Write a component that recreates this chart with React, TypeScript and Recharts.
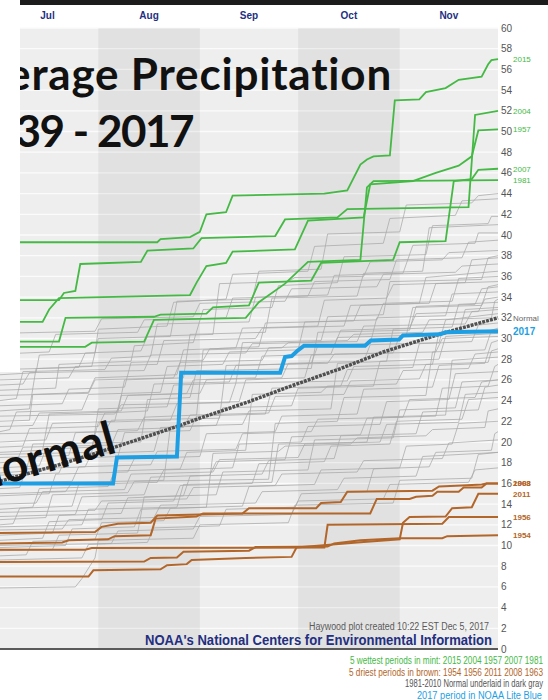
import React from "react";
import {
  LineChart,
  Line,
  XAxis,
  YAxis,
  CartesianGrid,
  ReferenceArea,
  ReferenceLine,
} from "recharts";

type Pt = [number, number];

// x = day counted from Jul 1 (day 0); y = cumulative precipitation (inches)
const months = ["Jul", "Aug", "Sep", "Oct", "Nov"];
const monthMid = [15.5, 46.5, 77, 107.5, 138];
const shadedMonths: [number, number][] = [
  [31, 62],
  [92, 123],
];
const yTicks = [
  0, 2, 4, 6, 8, 10, 12, 14, 16, 18, 20, 22, 24, 26, 28, 30, 32, 34, 36, 38,
  40, 42, 44, 46, 48, 50, 52, 54, 56, 58, 60,
];

const normal: Pt[] = [
  [1, 16.2], [19, 17.8], [37, 19.6], [55, 21.5], [62, 22.3], [77, 23.9],
  [88, 25.2], [105, 27.1], [118, 28.7], [135, 30.4], [153, 32.0],
];

const y2017: Pt[] = [
  [1, 16.0], [35.5, 16.0], [36.7, 18.5], [55, 18.6], [56.3, 26.7], [86.5, 26.7],
  [88, 28.2], [90, 28.3], [91.7, 28.8], [93.8, 29.3], [112.4, 29.3], [114.2, 29.8],
  [122.8, 29.9], [124, 30.3], [135.3, 30.4], [137, 30.6], [153, 30.7],
];

// 5 wettest
const wet2015: Pt[] = [
  [1, 39.3], [49, 39.3], [50, 39.6], [59, 39.8], [62, 40.3], [64, 42.0], [70, 42.2],
  [72, 43.8], [100, 44.0], [107, 44.3], [111, 46.8], [113, 47.3], [115, 47.6],
  [120, 47.7], [121.5, 53.0], [129, 53.1], [131, 53.8], [137, 54.2], [141, 55.0],
  [148, 55.3], [150, 56.5], [151, 56.9], [153, 57.0],
];
const wet2004: Pt[] = [
  [1, 33.7], [19, 33.7], [20.5, 34.4], [24, 34.6], [25.5, 37.2], [44, 37.4],
  [46, 38.5], [60, 38.7], [62.5, 39.7], [85, 39.9], [88, 41.5], [104, 41.7],
  [107, 42.5], [144, 42.7], [146, 51.6], [153, 52.0],
];
const wet1957: Pt[] = [
  [1, 31.6], [14, 31.6], [16, 32.8], [19, 33.9], [59, 34.2], [61, 35.4], [64, 37.0],
  [70, 37.3], [72, 38.4], [91, 38.6], [95, 41.4], [112, 41.7], [114, 44.9],
  [127, 45.2], [134, 46.0], [141, 46.7], [145, 47.6], [147, 50.1], [153, 50.2],
];
const wet2007: Pt[] = [
  [1, 29.7], [19, 29.7], [21, 32.0], [48, 32.1], [50, 32.3], [64, 32.4], [66, 33.0],
  [77, 33.2], [80, 35.4], [96, 35.6], [99, 37.3], [121, 37.6], [123, 39.3],
  [137, 39.4], [139.5, 45.2], [145, 45.4], [147, 46.3], [153, 46.4],
];
const wet1981: Pt[] = [
  [1, 29.2], [27, 29.2], [29, 29.6], [45, 29.7], [48, 31.8], [76, 32.0], [80, 33.5],
  [88, 35.3], [95, 37.4], [111, 37.6], [113, 44.6], [115, 45.2], [153, 45.3],
];

// 5 driest
const dry2008: Pt[] = [
  [1, 11.2], [30, 11.3], [32, 11.8], [37, 12.1], [47, 12.2], [49, 12.9], [75, 13.1],
  [77, 13.6], [97.5, 13.6], [99, 14.1], [105, 14.2], [107, 15.2], [133, 15.3],
  [135, 15.7], [142, 15.8], [148, 15.9], [149.5, 16.0], [153, 16.0],
];
const dry1963: Pt[] = [
  [1, 10.2], [20, 10.3], [22, 10.5], [34, 10.6], [36, 10.9], [47, 11.0], [48.5, 12.6],
  [61, 12.8], [63, 13.1], [114, 13.1], [116, 14.5], [126, 14.5], [128, 14.7],
  [133, 14.8], [134.5, 15.2], [141, 15.2], [142.5, 15.6], [148, 15.6], [149.5, 16.0],
  [153, 16.0],
];
const dry1956: Pt[] = [
  [1, 9.6], [27, 9.6], [29, 9.75], [100, 9.8], [101, 12.0], [136, 12.1],
  [138, 12.75], [153, 12.75],
];
const dry1954: Pt[] = [
  [1, 8.4], [45, 8.45], [47, 8.8], [55, 8.85], [57, 9.4], [77, 9.5], [79, 9.85],
  [101, 9.9], [103, 10.2], [111, 10.5], [123, 10.7], [136, 10.7], [137.5, 10.9],
  [153, 11.0],
];
const dry2011: Pt[] = [
  [1, 7.0], [28, 7.0], [29.5, 7.6], [50, 7.7], [52, 8.1], [58, 8.2], [59.5, 8.6],
  [76, 8.8], [90, 8.9], [91.5, 9.8], [110, 10.3], [123, 10.6], [124, 12.2],
  [126, 12.75], [137, 12.8], [139, 13.6], [145, 13.7], [147, 15.0], [153, 15.0],
];

// other years, underlaid in light gray
const otherYears: Pt[][] = [
  [[1, 26.5], [12, 26.7], [13, 28.4], [30, 28.6], [31, 30.9], [52, 31.2], [54, 33.5], [70, 33.8], [72, 36.2], [95, 36.5], [97, 38.9], [118, 39.2], [120, 41.6], [140, 41.9], [142, 43.3], [153, 43.5]],
  [[1, 25.0], [18, 25.2], [19, 27.5], [41, 27.8], [42, 29.3], [60, 29.6], [63, 32.8], [84, 33.0], [86, 35.1], [104, 35.4], [106, 37.9], [131, 38.1], [133, 40.9], [150, 41.1], [151, 41.8], [153, 41.8]],
  [[1, 24.0], [6, 24.2], [8, 26.8], [33, 27.0], [35, 28.1], [47, 28.3], [49, 31.4], [77, 31.6], [79, 34.0], [101, 34.2], [103, 36.1], [124, 36.3], [127, 39.0], [146, 39.2], [147, 40.2], [153, 40.2]],
  [[1, 27.0], [25, 27.2], [27, 28.6], [44, 28.8], [46, 30.2], [66, 30.4], [68, 35.3], [89, 35.5], [91, 35.9], [112, 36.0], [114, 37.4], [136, 37.6], [138, 38.3], [153, 38.5]],
  [[1, 22.0], [10, 22.1], [11, 24.6], [28, 24.8], [30, 26.2], [55, 26.5], [57, 28.9], [73, 29.1], [75, 31.0], [98, 31.2], [100, 33.7], [119, 33.9], [121, 35.2], [143, 35.4], [145, 37.6], [153, 37.8]],
  [[1, 23.5], [20, 23.7], [22, 25.1], [39, 25.3], [41, 27.7], [63, 27.9], [65, 29.0], [80, 29.2], [82, 31.5], [109, 31.7], [111, 33.2], [129, 33.4], [131, 35.9], [153, 36.5]],
  [[1, 21.0], [4, 21.2], [6, 22.9], [26, 23.1], [28, 24.6], [50, 24.8], [52, 27.3], [69, 27.5], [71, 28.7], [92, 28.9], [94, 31.6], [116, 31.8], [118, 33.4], [139, 33.6], [141, 35.8], [153, 36.0]],
  [[1, 20.0], [15, 20.2], [17, 21.8], [36, 22.0], [38, 24.5], [58, 24.7], [60, 26.0], [79, 26.2], [81, 28.3], [102, 28.5], [104, 30.1], [125, 30.3], [127, 33.0], [148, 33.2], [150, 35.0], [153, 35.2]],
  [[1, 19.5], [8, 19.6], [10, 21.3], [31, 21.5], [33, 22.8], [46, 23.0], [48, 25.6], [71, 25.8], [73, 27.4], [96, 27.6], [98, 29.3], [114, 29.5], [116, 32.0], [137, 32.2], [139, 34.3], [153, 34.5]],
  [[1, 18.5], [22, 18.7], [24, 20.9], [43, 21.1], [45, 22.4], [61, 22.6], [63, 28.9], [87, 29.1], [89, 29.6], [107, 29.8], [109, 30.4], [130, 30.6], [132, 31.8], [151, 32.0], [152, 33.6], [153, 33.8]],
  [[1, 17.5], [13, 17.7], [15, 19.3], [29, 19.5], [31, 21.9], [53, 22.1], [55, 23.7], [74, 23.9], [76, 26.0], [94, 26.2], [96, 28.4], [121, 28.6], [123, 30.3], [141, 30.5], [143, 32.8], [153, 33.0]],
  [[1, 16.8], [19, 17.0], [21, 18.4], [37, 18.6], [39, 20.9], [59, 21.1], [61, 22.5], [82, 22.7], [84, 25.2], [105, 25.4], [107, 27.0], [127, 27.2], [129, 29.5], [145, 29.7], [147, 31.3], [153, 31.5]],
  [[1, 15.5], [7, 15.6], [9, 17.4], [27, 17.6], [29, 18.9], [48, 19.1], [50, 21.4], [67, 21.6], [69, 23.3], [90, 23.5], [92, 25.2], [115, 25.4], [117, 27.8], [135, 28.0], [137, 30.2], [153, 30.5]],
  [[1, 14.8], [16, 15.0], [18, 16.9], [40, 17.1], [42, 18.4], [62, 18.6], [64, 20.8], [85, 21.0], [87, 22.5], [110, 22.7], [112, 25.1], [133, 25.3], [135, 27.4], [149, 27.6], [151, 29.6], [153, 29.8]],
  [[1, 13.5], [11, 13.7], [13, 15.5], [34, 15.7], [36, 17.2], [56, 17.4], [58, 19.0], [76, 19.2], [78, 24.6], [99, 24.8], [101, 25.4], [122, 25.6], [124, 26.9], [144, 27.1], [146, 28.5], [153, 28.7]],
  [[1, 12.8], [24, 13.0], [26, 14.7], [45, 14.9], [47, 16.6], [65, 16.8], [67, 18.1], [88, 18.3], [90, 20.5], [111, 20.7], [113, 22.3], [134, 22.5], [136, 25.2], [150, 25.4], [152, 27.3], [153, 27.5]],
  [[1, 12.0], [5, 12.1], [7, 13.6], [23, 13.8], [25, 15.9], [49, 16.1], [51, 17.3], [72, 17.5], [74, 19.8], [93, 20.0], [95, 21.5], [117, 21.7], [119, 23.9], [138, 24.1], [140, 26.6], [153, 26.8]],
  [[1, 11.0], [17, 11.2], [19, 12.9], [38, 13.1], [40, 14.6], [57, 14.8], [59, 16.7], [81, 16.9], [83, 18.2], [103, 18.4], [105, 20.6], [128, 20.8], [130, 22.9], [147, 23.1], [149, 25.3], [153, 25.5]],
  [[1, 10.5], [14, 10.7], [16, 12.3], [32, 12.5], [34, 14.1], [54, 14.3], [56, 15.8], [78, 16.0], [80, 17.9], [100, 18.1], [102, 19.6], [120, 19.8], [122, 22.0], [142, 22.2], [144, 24.1], [153, 24.3]],
  [[1, 9.8], [21, 10.0], [23, 11.6], [42, 11.8], [44, 13.5], [64, 13.7], [66, 18.9], [86, 19.1], [88, 19.6], [108, 19.8], [110, 20.4], [131, 20.6], [133, 21.2], [149, 21.4], [150, 23.0], [153, 23.2]],
  [[1, 9.0], [9, 9.1], [11, 10.4], [30, 10.6], [32, 12.2], [51, 12.4], [53, 13.6], [75, 13.8], [77, 15.7], [97, 15.9], [99, 17.3], [123, 17.5], [125, 19.6], [139, 19.8], [141, 21.8], [153, 22.0]],
  [[1, 8.6], [26, 8.8], [28, 10.1], [46, 10.3], [48, 11.7], [68, 11.9], [70, 13.5], [91, 13.7], [93, 15.0], [113, 15.2], [115, 17.4], [132, 17.6], [134, 19.0], [151, 19.2], [152, 20.8], [153, 21.0]],
  [[1, 13.2], [30, 13.4], [32, 14.3], [58, 14.5], [60, 15.6], [85, 15.8], [87, 16.9], [110, 17.1], [112, 18.2], [136, 18.4], [138, 19.9], [153, 20.2]],
  [[1, 11.5], [20, 11.6], [22, 12.5], [48, 12.7], [50, 13.9], [79, 14.1], [81, 15.2], [104, 15.4], [106, 16.5], [128, 16.7], [130, 18.6], [153, 19.0]],
  [[1, 10.0], [35, 10.2], [37, 11.4], [60, 11.6], [62, 12.8], [90, 13.0], [92, 14.3], [118, 14.5], [120, 15.9], [144, 16.1], [146, 17.3], [153, 17.5]],
  [[1, 28.5], [16, 28.7], [18, 30.4], [43, 30.6], [45, 31.8], [70, 32.0], [72, 33.9], [95, 34.1], [97, 35.5], [120, 35.7], [122, 37.6], [142, 37.8], [144, 39.3], [153, 39.5]],
  [[1, 30.5], [30, 30.7], [32, 31.9], [60, 32.1], [62, 33.4], [88, 33.6], [90, 34.8], [116, 35.0], [118, 36.2], [140, 36.4], [142, 37.0], [153, 37.2]],
  [[1, 21.5], [11, 21.6], [13, 22.8], [38, 23.0], [40, 24.5], [62, 24.7], [64, 26.0], [87, 26.2], [89, 27.6], [112, 27.8], [114, 29.4], [135, 29.6], [137, 31.8], [153, 32.4]],
  [[1, 16.0], [23, 16.2], [25, 17.6], [47, 17.8], [49, 19.1], [73, 19.3], [75, 20.8], [96, 21.0], [98, 22.2], [124, 22.4], [126, 24.1], [146, 24.3], [148, 25.8], [153, 26.0]],
  [[1, 18.0], [6, 18.1], [8, 19.5], [35, 19.7], [37, 21.2], [57, 21.4], [59, 22.6], [83, 22.8], [85, 24.4], [106, 24.6], [108, 25.9], [129, 26.1], [131, 27.5], [150, 27.7], [151, 28.8], [153, 29.0]],
  [[1, 24.5], [28, 24.7], [30, 26.0], [54, 26.2], [56, 27.7], [81, 27.9], [83, 29.1], [103, 29.3], [105, 30.8], [126, 31.0], [128, 32.4], [147, 32.6], [149, 33.8], [153, 34.0]],
  [[1, 14.0], [12, 14.1], [14, 15.2], [39, 15.4], [41, 16.9], [66, 17.1], [68, 18.3], [92, 18.5], [94, 19.8], [117, 20.0], [119, 21.7], [141, 21.9], [143, 24.6], [153, 24.8]],
  [[1, 5.9], [24, 6.0], [26, 6.8], [30, 8.8], [31, 10.5], [60, 10.7], [62, 12.0], [89, 12.2], [91, 13.9], [121, 14.1], [123, 16.3], [145, 16.5], [147, 18.8], [153, 19.0]],
  [[1, 20.8], [33, 21.0], [35, 22.1], [68, 22.3], [70, 27.4], [101, 27.6], [103, 28.5], [134, 28.7], [136, 30.0], [153, 30.2]],
  [[1, 17.0], [9, 17.2], [11, 19.8], [44, 20.0], [46, 24.1], [59, 24.3], [61, 26.9], [96, 27.1], [98, 30.6], [126, 30.8], [128, 33.1], [146, 33.3], [148, 34.8], [153, 35.0]],
  [[1, 15.0], [21, 15.2], [23, 16.1], [51, 16.3], [53, 21.5], [75, 21.7], [77, 23.0], [102, 23.2], [104, 27.6], [119, 27.8], [121, 30.9], [139, 31.1], [141, 33.3], [153, 33.5]],
  [[1, 12.5], [15, 12.7], [17, 14.9], [40, 15.1], [42, 16.2], [83, 16.4], [85, 21.8], [104, 22.0], [106, 24.3], [131, 24.5], [133, 28.7], [149, 28.9], [151, 30.8], [153, 31.0]],
  [[1, 19.0], [14, 19.2], [16, 22.7], [37, 22.9], [39, 26.0], [57, 26.2], [59, 30.4], [82, 30.6], [84, 33.9], [110, 34.1], [112, 36.3], [130, 36.5], [132, 40.7], [153, 41.0]],
  [[1, 23.0], [10, 23.2], [12, 27.1], [29, 27.3], [31, 30.0], [53, 30.2], [55, 33.6], [78, 33.8], [80, 36.5], [99, 36.7], [101, 40.1], [123, 40.3], [125, 42.9], [145, 43.1], [147, 43.8], [153, 44.0]],
  [[1, 26.0], [22, 26.2], [24, 27.3], [49, 27.5], [51, 29.8], [79, 30.0], [81, 31.0], [106, 31.2], [108, 33.2], [132, 33.4], [134, 35.3], [153, 35.5]],
  [[1, 11.8], [26, 12.0], [28, 13.5], [55, 13.7], [57, 15.9], [84, 16.1], [86, 19.8], [113, 20.0], [115, 22.4], [137, 22.6], [139, 27.9], [153, 28.2]],
  [[1, 9.5], [17, 9.6], [19, 11.0], [43, 11.2], [45, 14.7], [67, 14.9], [69, 17.1], [95, 17.3], [97, 20.2], [121, 20.4], [123, 23.1], [140, 23.3], [142, 25.8], [153, 26.0]],
  [[1, 22.5], [36, 22.7], [38, 23.6], [71, 23.8], [73, 25.7], [107, 25.9], [109, 27.3], [133, 27.5], [135, 30.6], [153, 30.8]],
  [[1, 25.5], [8, 25.6], [10, 26.7], [45, 26.9], [47, 28.4], [76, 28.6], [78, 29.5], [110, 29.7], [112, 31.2], [143, 31.4], [145, 32.6], [153, 32.8]],
  [[1, 18.8], [29, 19.0], [31, 23.2], [52, 23.4], [54, 25.5], [73, 25.7], [75, 29.6], [99, 29.8], [101, 32.1], [118, 32.3], [120, 35.5], [148, 35.7], [150, 37.8], [153, 38.0]],
];

const legendLines = [
  "5 wettest periods in mint: 2015 2004 1957 2007 1981",
  "5 driest periods in brown: 1954 1956 2011 2008 1963",
  "1981-2010 Normal underlaid in dark gray",
  "2017 period in NOAA Lite Blue",
];

const GREEN = "#44b944";
const BROWN = "#b2662a";
const BLUE = "#1e9fe3";
const NAVY = "#232f80";
const NARROW = "'Liberation Sans Narrow', 'Liberation Sans', Arial, sans-serif";
const TITLE = "Lato, 'Open Sans', sans-serif";

const rows = (pts: Pt[]) => pts.map(([day, v]) => ({ day, v }));

function endLabel(text: string, color: string, n: number, size = 8, weight = 400) {
  return (p: any) => {
    if (p.index !== n - 1) return null;
    const x = p.viewBox?.x ?? p.x;
    const y = p.viewBox?.y ?? p.y;
    return (
      <text x={x + 15} y={y + size * 0.35} fill={color} fontSize={size} fontWeight={weight} fontFamily={NARROW}>
        {text}
      </text>
    );
  };
}

const wetSeries: [string, Pt[]][] = [
  ["2015", wet2015],
  ["2004", wet2004],
  ["1957", wet1957],
  ["2007", wet2007],
  ["1981", wet1981],
];
const drySeries: [string, Pt[]][] = [
  ["1954", dry1954],
  ["1956", dry1956],
  ["2011", dry2011],
  ["2008", dry2008],
  ["1963", dry1963],
];

export default function App() {
  return (
    <div style={{ position: "absolute", left: 0, top: 0, width: 548, height: 700, background: "#fff", overflow: "hidden" }}>
      <LineChart width={548} height={700} margin={{ top: 0, right: 0, bottom: 51, left: 0 }}>
        <CartesianGrid vertical={false} fill="#eeeeee" stroke="#fbfbfb" strokeWidth={1.3} />
        {shadedMonths.map(([a, b]) => (
          <ReferenceArea key={a} x1={a} x2={b} fill="#000" fillOpacity={0.05} stroke="none" ifOverflow="hidden" />
        ))}
        <XAxis
          type="number"
          dataKey="day"
          orientation="top"
          domain={[1, 153]}
          ticks={monthMid}
          tickFormatter={(d: number) => months[monthMid.indexOf(d)] ?? ""}
          height={28}
          axisLine={false}
          tickLine={false}
          tickSize={0}
          tickMargin={9}
          interval={0}
          tick={{ fill: NAVY, fontSize: 10, fontWeight: 700, fontFamily: "'Liberation Sans', Arial, sans-serif" }}
        />
        <YAxis
          type="number"
          orientation="right"
          width={50}
          domain={[0, 60]}
          ticks={yTicks}
          interval={0}
          axisLine={false}
          tickLine={false}
          tickSize={0}
          tickMargin={3}
          tick={{ fill: "#555", fontSize: 10, fontFamily: NARROW }}
        />
        {otherYears.map((pts, i) => (
          <Line
            key={"g" + i}
            data={rows(pts)}
            dataKey="v"
            type="linear"
            stroke="#a8a8a8"
            strokeWidth={1}
            strokeOpacity={0.75}
            dot={false}
            activeDot={false}
            isAnimationActive={false}
          />
        ))}
        {drySeries.map(([yr, pts]) => (
          <Line
            key={yr}
            data={rows(pts)}
            dataKey="v"
            type="linear"
            stroke={BROWN}
            strokeWidth={2}
            dot={false}
            activeDot={false}
            isAnimationActive={false}
            label={endLabel(yr, BROWN, pts.length, 8, 700)}
          />
        ))}
        {wetSeries.map(([yr, pts]) => (
          <Line
            key={yr}
            data={rows(pts)}
            dataKey="v"
            type="linear"
            stroke={GREEN}
            strokeWidth={1.8}
            dot={false}
            activeDot={false}
            isAnimationActive={false}
            label={endLabel(yr, GREEN, pts.length)}
          />
        ))}
        <Line
          data={rows(normal)}
          dataKey="v"
          type="linear"
          stroke="#505050"
          strokeWidth={3.5}
          strokeDasharray="3 1"
          dot={false}
          activeDot={false}
          isAnimationActive={false}
          label={endLabel("Normal", "#666", normal.length)}
        />
        <Line
          data={rows(y2017)}
          dataKey="v"
          type="linear"
          stroke={BLUE}
          strokeWidth={4}
          dot={false}
          activeDot={false}
          isAnimationActive={false}
          label={endLabel("2017", BLUE, y2017.length, 10, 700)}
        />
        <ReferenceLine y={0} stroke="#5a5a5a" strokeWidth={2} />
      </LineChart>

      <svg width={548} height={700} style={{ position: "absolute", left: 0, top: 0, pointerEvents: "none" }}>
        <rect x={0} y={0} width={548} height={5} fill="#1c1c1c" />
        <text x={392} y={90} textAnchor="end" fontFamily={TITLE} fontWeight={700} fontSize={44} letterSpacing={0.8} fill="#111">
          Average Precipitation
        </text>
        <text x={193} y={147} textAnchor="end" fontFamily={TITLE} fontWeight={700} fontSize={44} letterSpacing={-1.5} fill="#111">
          1939 - 2017
        </text>
        <rect x={0} y={0} width={20} height={372} fill="#fff" />
        <text
          x={118}
          y={452}
          textAnchor="end"
          fontFamily={TITLE}
          fontWeight={700}
          fontSize={46}
          fill="#111"
          transform="rotate(-16 118 452)"
        >
          Normal
        </text>
        <text x={489} y={630} textAnchor="end" fontFamily={NARROW} fontSize={10} fill="#5a5a5a" textLength={180} lengthAdjust="spacingAndGlyphs">
          Haywood plot created 10:22 EST Dec 5, 2017
        </text>
        <text x={145} y={645} fontFamily="'Liberation Sans', Arial, sans-serif" fontWeight={700} fontSize={14} fill={NAVY} textLength={347} lengthAdjust="spacingAndGlyphs">
          NOAA's National Centers for Environmental Information
        </text>
        <text x={543} y={664} textAnchor="end" fontFamily={NARROW} fontSize={10} fill={GREEN} textLength={193} lengthAdjust="spacingAndGlyphs">
          {legendLines[0]}
        </text>
        <text x={543} y={676} textAnchor="end" fontFamily={NARROW} fontSize={10} fill={BROWN} textLength={194} lengthAdjust="spacingAndGlyphs">
          {legendLines[1]}
        </text>
        <text x={543} y={687} textAnchor="end" fontFamily={NARROW} fontSize={10} fill="#555" textLength={138} lengthAdjust="spacingAndGlyphs">
          {legendLines[2]}
        </text>
        <text x={542} y={699} textAnchor="end" fontFamily={NARROW} fontSize={10} fill={BLUE} textLength={125} lengthAdjust="spacingAndGlyphs">
          {legendLines[3]}
        </text>
      </svg>
    </div>
  );
}
